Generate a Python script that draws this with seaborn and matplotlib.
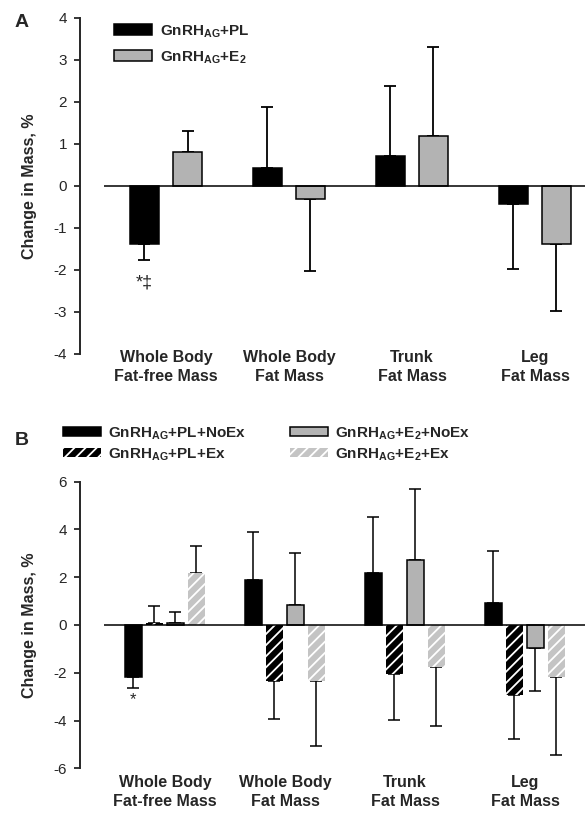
import numpy as np
import pandas as pd
import matplotlib
matplotlib.use("Agg")
import matplotlib.pyplot as plt
from matplotlib.patches import Patch
import seaborn as sns

regions = ["Whole Body\nFat-free Mass", "Whole Body\nFat Mass", "Trunk\nFat Mass", "Leg\nFat Mass"]

# panel A
groups_a = ["GnRH$_{\\mathbf{AG}}$+PL", "GnRH$_{\\mathbf{AG}}$+E$_{\\mathbf{2}}$"]
pl_a = [-1.38, 0.42, 0.71, -0.43]
pl_a_err = [0.39, 1.45, 1.67, 1.55]
e2_a = [0.81, -0.31, 1.19, -1.38]
e2_a_err = [0.50, 1.71, 2.13, 1.60]

# panel B
groups_b = ["GnRH$_{\\mathbf{AG}}$+PL+NoEx", "GnRH$_{\\mathbf{AG}}$+PL+Ex",
            "GnRH$_{\\mathbf{AG}}$+E$_{\\mathbf{2}}$+NoEx", "GnRH$_{\\mathbf{AG}}$+E$_{\\mathbf{2}}$+Ex"]
pl_noex = [-2.19, 1.88, 2.18, 0.93]
pl_noex_err = [0.43, 2.02, 2.33, 2.18]
pl_ex = [0.08, -2.34, -2.06, -2.92]
pl_ex_err = [0.72, 1.59, 1.93, 1.86]
e2_noex = [0.08, 0.82, 2.72, -0.98]
e2_noex_err = [0.45, 2.21, 2.98, 1.77]
e2_ex = [2.16, -2.36, -1.74, -2.19]
e2_ex_err = [1.16, 2.70, 2.47, 3.25]

sns.set_theme(style="ticks")
plt.rcParams["font.family"] = ["Liberation Sans", "DejaVu Sans"]
plt.rcParams["mathtext.fontset"] = "custom"
plt.rcParams["mathtext.rm"] = "Liberation Sans"
plt.rcParams["mathtext.bf"] = "Liberation Sans:bold"
plt.rcParams["hatch.linewidth"] = 1.3
plt.rcParams["axes.unicode_minus"] = False

GRAY = "#b3b3b3"
LGRAY = "#c4c4c4"


def long_df(groups, values, errs):
    rows = []
    for g, v, e in zip(groups, values, errs):
        for r, vv, ee in zip(regions, v, e):
            rows.append({"region": r, "group": g, "change": vv, "err": ee})
    return pd.DataFrame(rows)


def add_errbars(ax, df, groups, lw):
    for cont, g in zip(ax.containers, groups):
        sub = df[df.group == g]
        xs = [b.get_x() + b.get_width() / 2 for b in cont]
        v = sub.change.values
        e = sub.err.values
        lower = np.where(v < 0, e, 0)
        upper = np.where(v >= 0, e, 0)
        ax.errorbar(xs, v, yerr=[lower, upper], fmt="none", ecolor="black",
                    elinewidth=lw, capsize=4.3, capthick=lw, zorder=1)


def style_axis(ax, ylim, yticks, xlim, pad):
    ax.set_ylim(*ylim)
    ax.set_yticks(yticks)
    ax.set_xlim(*xlim)
    ax.axhline(0, color="black", lw=1.1, zorder=3)
    for s in ["top", "right", "bottom"]:
        ax.spines[s].set_visible(False)
    ax.spines["left"].set_position(("outward", 17.3))
    ax.spines["left"].set_linewidth(1.4)
    ax.tick_params(axis="y", length=4.3, width=1.1, pad=5, labelsize=11, color="black")
    ax.tick_params(axis="x", length=0, pad=pad)
    for t in ax.get_xticklabels():
        t.set_fontsize(11.5)
        t.set_fontweight("bold")
        t.set_linespacing(1.35)
    ax.set_xlabel("")
    ax.set_ylabel("Change in Mass, %", fontsize=11.5, fontweight="bold")
    ax.yaxis.set_label_coords(-0.139, 0.5)


fig = plt.figure(figsize=(5.85, 8.15), dpi=100)

# ---- panel A
ax1 = fig.add_axes([104 / 585, 1 - 354 / 815, 481 / 585, 336 / 815])
df_a = long_df(groups_a, [pl_a, e2_a], [pl_a_err, e2_a_err])
sns.barplot(data=df_a, x="region", y="change", hue="group", hue_order=groups_a,
            palette=["black", GRAY], width=0.7, gap=0.31, errorbar=None,
            edgecolor="black", linewidth=1.1, legend=False, ax=ax1, zorder=2)
add_errbars(ax1, df_a, groups_a, 1.3)
style_axis(ax1, (-4, 4), range(-4, 5), (-0.504, 3.407), -2.8)
b = ax1.containers[0][0]
ax1.text(b.get_x() + b.get_width() / 2, -2.1, "*\u2021", ha="center", va="top",
         fontsize=13, family=["Liberation Sans", "DejaVu Sans"])

fig.legend(handles=[Patch(facecolor="black", edgecolor="black", lw=1.1),
                    Patch(facecolor=GRAY, edgecolor="black", lw=1.1)],
           labels=groups_a, loc="upper left", bbox_to_anchor=(114 / 585, 1 - 23 / 815),
           frameon=False, borderpad=0, borderaxespad=0, handlelength=2.48,
           handleheight=0.72, handletextpad=0.52, labelspacing=0.62,
           prop={"weight": "bold", "size": 11})

# ---- panel B
ax2 = fig.add_axes([104 / 585, 1 - 768.3 / 815, 481 / 585, 286.6 / 815])
df_b = long_df(groups_b, [pl_noex, pl_ex, e2_noex, e2_ex],
               [pl_noex_err, pl_ex_err, e2_noex_err, e2_ex_err])
sns.barplot(data=df_b, x="region", y="change", hue="group", hue_order=groups_b,
            palette=["black", "black", GRAY, "white"], width=0.7, gap=0.21,
            errorbar=None, edgecolor="black", linewidth=1.1, legend=False, ax=ax2, zorder=2)
for p in ax2.containers[1]:
    p.set_facecolor("black")
    p.set_edgecolor("white")
    p.set_hatch("///")
    p.set_linewidth(0)
for p in ax2.containers[3]:
    p.set_facecolor(LGRAY)
    p.set_edgecolor("white")
    p.set_hatch("///")
    p.set_linewidth(0)
add_errbars(ax2, df_b, groups_b, 1.1)
style_axis(ax2, (-6, 6), range(-6, 7, 2), (-0.508, 3.5), 4.5)
b = ax2.containers[0][0]
ax2.text(b.get_x() + b.get_width() / 2, -2.8, "*", ha="center", va="top", fontsize=12)

kw = dict(loc="upper left", frameon=False, borderpad=0, borderaxespad=0,
          handlelength=2.48, handleheight=0.52, handletextpad=0.48, labelspacing=0.3,
          prop={"weight": "bold", "size": 11})
fig.legend(handles=[Patch(facecolor="black", edgecolor="black", lw=1.1),
                    Patch(facecolor="black", edgecolor="white", hatch="///", lw=0)],
           labels=groups_b[:2], bbox_to_anchor=(63 / 585, 1 - 425 / 815), **kw)
fig.legend(handles=[Patch(facecolor=GRAY, edgecolor="black", lw=1.1),
                    Patch(facecolor=LGRAY, edgecolor="white", hatch="///", lw=0)],
           labels=groups_b[2:], bbox_to_anchor=(290 / 585, 1 - 425 / 815), **kw)

fig.text(15 / 585, 1 - 14 / 815, "A", fontsize=14, fontweight="bold", va="top")
fig.text(15 / 585, 1 - 432 / 815, "B", fontsize=14, fontweight="bold", va="top")

fig.savefig("out.png", dpi=100)
